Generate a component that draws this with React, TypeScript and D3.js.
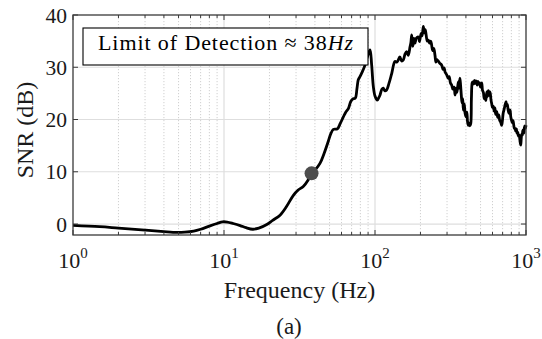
import React from "react";
import * as d3 from "d3";

const freq: number[] = [
  1, 1.5, 2, 3, 4, 4.6, 5.5, 6.3, 7, 8, 9, 9.8, 10.5, 11.5, 12.8, 14, 15.5, 17, 19.2, 21, 23.5, 26, 28.8, 31, 33.5, 36, 38, 40,
  43.2, 46, 49, 51, 53, 56.3, 59, 61.7, 64, 66.6, 69, 71.1, 74, 76, 77.5, 79.5, 82, 85.9, 89, 92.7, 95, 97.5, 100, 103.5,
  106, 108, 111, 113.5, 116, 119, 124, 129, 135.6, 140, 146, 150, 154, 158, 162, 166, 170.6, 173, 175, 178, 181, 184, 188,
  193.6, 197, 202, 205, 209, 212, 215, 218, 222, 225.5, 230, 234, 237, 241, 245, 249.6, 253, 256, 262, 268, 276.6, 282, 287,
  291, 298, 305.6, 310, 316, 322, 328, 334, 339, 344, 349, 356, 360, 365, 369, 373, 377, 381, 384.6, 390, 395, 401, 406, 410,
  415, 420, 425, 430.5, 435, 440, 444, 450, 456, 462, 468, 475, 480, 486, 492, 500, 509, 515, 522, 529, 535, 542, 550, 556,
  563, 570, 578, 586, 593, 600, 607, 615, 622, 630, 640, 650, 660, 670, 680, 690, 698, 706, 714, 722, 730, 738, 745, 752, 760,
  770, 778, 784, 792, 800, 810, 820, 830, 838, 846, 855, 864, 872, 880, 888, 895, 903, 910, 917, 923, 930, 938, 945, 952, 960,
  968, 975, 982, 990, 1000,
];

const snr: number[] = [
  -0.25, -0.5, -0.77, -1.15, -1.45, -1.58, -1.55, -1.35, -1.0, -0.4, 0.1, 0.42, 0.38, 0.1, -0.3, -0.7, -1.0, -0.8, -0.1, 0.7, 1.7, 3.4,
  5.5, 6.5, 7.2, 8.4, 9.7, 10.3, 11.6, 13.5, 15.8, 17.3, 18.1, 18.2, 19.3, 20.5, 21.4, 22.1, 23.4, 23.9, 24.1, 26.0, 27.6, 28.2,
  29.0, 30.4, 32.0, 33.3, 30.5, 26.3, 24.5, 23.7, 24.2, 24.7, 25.8, 26.0, 25.5, 25.6, 27.0, 28.8, 31.1, 31.0, 32.0, 31.2, 31.4,
  32.5, 33.0, 32.3, 33.9, 34.8, 36.2, 34.0, 35.5, 34.6, 35.6, 35.8, 34.9, 36.5, 36.0, 37.8, 36.6, 37.2, 36.2, 35.0, 35.2, 34.6,
  35.0, 34.3, 33.2, 33.6, 32.3, 31.0, 31.5, 31.2, 30.8, 30.4, 29.6, 29.9, 29.1, 28.6, 27.9, 28.2, 27.0, 26.6, 25.8, 26.2, 24.7,
  26.0, 25.2, 27.2, 26.0, 27.9, 26.5, 24.6, 23.2, 24.0, 21.8, 23.0, 21.2, 20.5, 21.4, 19.6, 18.9, 19.3, 18.8, 19.2, 24.0, 27.0,
  27.2, 26.8, 27.5, 26.9, 27.4, 26.6, 27.3, 26.8, 27.0, 26.2, 27.0, 25.6, 25.2, 24.0, 24.4, 23.6, 25.3, 24.4, 25.5, 24.6, 25.3,
  23.8, 23.0, 22.3, 22.5, 21.6, 22.2, 21.0, 21.5, 20.4, 20.9, 19.8, 19.5, 18.9, 19.8, 21.2, 21.8, 22.4, 23.0, 23.4, 22.6, 22.9,
  22.0, 21.2, 21.8, 21.8, 20.6, 20.0, 19.4, 19.8, 18.9, 18.3, 18.3, 17.8, 18.2, 17.4, 17.6, 17.0, 16.8, 17.0, 16.2, 15.5, 15.1,
  16.4, 17.2, 17.0, 17.8, 18.0, 17.4, 18.4, 18.8, 18.3, 18.9,
];

const xMajorTicks: number[] = [1, 10, 100, 1000];
const xTickExponents: string[] = ["0", "1", "2", "3"];
const yTicks: number[] = [0, 10, 20, 30, 40];
const detectionFreq = 38;
const detectionSnr = 9.7;
const legendPrefix = "Limit of Detection \u2248 38";
const legendUnit = "Hz";
const xLabel = "Frequency (Hz)";
const yLabel = "SNR (dB)";
const caption = "(a)";

const W = 542;
const H = 339;
const left = 73;
const right = 526;
const top = 15;
const bottom = 235;
const FONT = "'Liberation Serif', 'Times New Roman', serif";

export default function App() {
  const x = d3.scaleLog().domain([1, 1000]).range([left, right]);
  const y = d3.scaleLinear().domain([-2.1, 40]).range([bottom, top]);

  const minorTicks: number[] = [];
  for (const dec of [1, 10, 100]) {
    for (let k = 2; k <= 9; k++) minorTicks.push(dec * k);
  }

  const pts: [number, number][] = freq.map((f, i) => [f, snr[i]]);
  const line = d3
    .line<[number, number]>()
    .x((d) => x(d[0]))
    .y((d) => y(d[1]))
    .curve(d3.curveCatmullRom.alpha(0.5));

  const axisColor = "#3a3a3a";
  const textColor = "#1a1a1a";

  return (
    <svg
      width={W}
      height={H}
      style={{ position: "absolute", left: 0, top: 0, background: "#fff" }}
      fontFamily={FONT}
    >
      <rect x={0} y={0} width={W} height={H} fill="#fff" />
      {/* minor grid */}
      {minorTicks.map((t) => (
        <line
          key={"mg" + t}
          x1={x(t)}
          x2={x(t)}
          y1={top}
          y2={bottom}
          stroke="#c4c4c4"
          strokeWidth={0.8}
          strokeDasharray="1.2,1.8"
        />
      ))}
      {/* major grid */}
      {xMajorTicks.slice(1, -1).map((t) => (
        <line key={"xg" + t} x1={x(t)} x2={x(t)} y1={top} y2={bottom} stroke="#dedede" strokeWidth={1.2} />
      ))}
      {yTicks.slice(0, -1).map((t) => (
        <line key={"yg" + t} x1={left} x2={right} y1={y(t)} y2={y(t)} stroke="#dedede" strokeWidth={1.2} />
      ))}

      {/* curve */}
      <path d={line(pts) || ""} fill="none" stroke="#000" strokeWidth={2.8} strokeLinejoin="round" />

      {/* detection point */}
      <circle cx={x(detectionFreq)} cy={y(detectionSnr)} r={7} fill="#4d4d4d" />

      {/* axes box */}
      <rect x={left} y={top} width={right - left} height={bottom - top} fill="none" stroke={axisColor} strokeWidth={1.3} />

      {/* x ticks */}
      {minorTicks.map((t) => (
        <g key={"mt" + t}>
          <line x1={x(t)} x2={x(t)} y1={bottom} y2={bottom - 3} stroke={axisColor} strokeWidth={1} />
          <line x1={x(t)} x2={x(t)} y1={top} y2={top + 3} stroke={axisColor} strokeWidth={1} />
        </g>
      ))}
      {xMajorTicks.map((t) => (
        <g key={"Mt" + t}>
          <line x1={x(t)} x2={x(t)} y1={bottom} y2={bottom - 5} stroke={axisColor} strokeWidth={1} />
          <line x1={x(t)} x2={x(t)} y1={top} y2={top + 5} stroke={axisColor} strokeWidth={1} />
        </g>
      ))}
      {xMajorTicks.map((t, i) => (
        <text key={"xl" + t} x={x(t)} y={268} fontSize={22} textAnchor="middle" fill={textColor}>
          10
          <tspan fontSize={15} dy={-10}>
            {xTickExponents[i]}
          </tspan>
        </text>
      ))}

      {/* y ticks */}
      {yTicks.map((t) => (
        <g key={"yt" + t}>
          <line x1={left} x2={left + 5} y1={y(t)} y2={y(t)} stroke={axisColor} strokeWidth={1} />
          <line x1={right} x2={right - 5} y1={y(t)} y2={y(t)} stroke={axisColor} strokeWidth={1} />
          <text x={67} y={y(t) + 7.5} fontSize={21.5} textAnchor="end" fill={textColor}>
            {t}
          </text>
        </g>
      ))}

      {/* axis labels */}
      <text x={(left + right) / 2} y={298} fontSize={24} textAnchor="middle" fill={textColor}>
        {xLabel}
      </text>
      <text
        transform={`translate(33, ${(top + bottom) / 2 + 5}) rotate(-90)`}
        fontSize={24}
        textAnchor="middle"
        fill={textColor}
      >
        {yLabel}
      </text>
      <text x={289} y={334} fontSize={23} textAnchor="middle" fill={textColor}>
        {caption}
      </text>

      {/* legend box */}
      <rect x={83} y={28} width={285} height={37} fill="#fff" stroke="#000" strokeWidth={1.1} />
      <text x={98} y={50} fontSize={22} fill="#000" textLength={255} lengthAdjust="spacing">
        {legendPrefix}
        <tspan fontStyle="italic">{legendUnit}</tspan>
      </text>
    </svg>
  );
}
